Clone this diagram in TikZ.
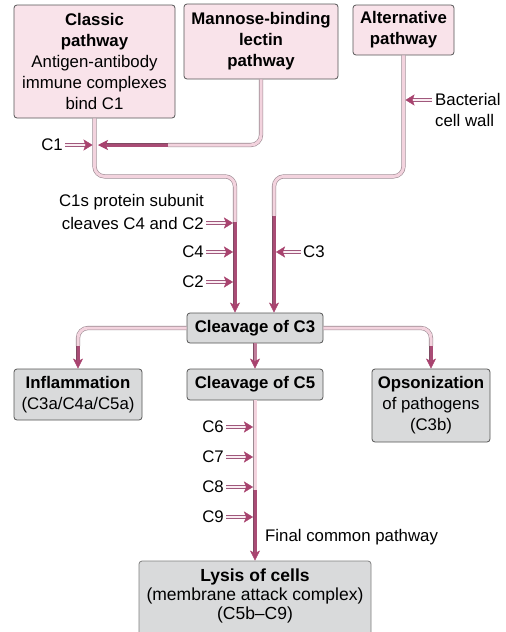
\documentclass[tikz,border=0pt]{standalone}
\usepackage{fontspec}
\setmainfont{Liberation Sans}
\usetikzlibrary{arrows.meta}
\definecolor{boxpink}{HTML}{F9E3EA}
\definecolor{boxgray}{HTML}{D9DADB}
\definecolor{boxedge}{HTML}{555555}
\definecolor{tubein}{HTML}{F3D3DE}
\definecolor{tubeout}{HTML}{9C8A92}
\definecolor{darkin}{HTML}{A94C75}
\definecolor{darkout}{HTML}{7E4A62}
\definecolor{midin}{HTML}{C07C9A}
\definecolor{headc}{HTML}{A8426E}
\definecolor{arrowedge}{HTML}{A0587C}
\begin{document}
\begin{tikzpicture}[x=1pt,y=-1pt,
 font=\fontsize{16.8}{21}\selectfont,
 box/.style={draw=boxedge, line width=0.8pt, rounded corners=3pt, align=center, inner sep=0pt},
 pinkbox/.style={box, fill=boxpink},
 graybox/.style={box, fill=boxgray},
 lbl/.style={inner sep=0pt},
 tube/.style={draw=tubeout, double=tubein, line width=0.6pt, double distance=3pt, rounded corners=10pt},
 tubedark/.style={draw=darkout, double=darkin, line width=0.6pt, double distance=3pt},
 tubemid/.style={draw=darkout, double=midin, line width=0.6pt, double distance=3pt},
 tip/.style={-{Stealth[length=10pt,width=10pt,inset=2.5pt,color=headc]}},
 inarrow/.style={
   preaction={arrows=-, draw=arrowedge, double=tubein!40, line width=0.8pt, double distance=2.6pt,
              shorten <=2pt, shorten >=9pt},
   draw=tubein!40, line width=0.3pt, shorten <=3pt, shorten >=2pt,
   -{Stealth[length=9pt,width=11pt,inset=2pt,color=headc,fill=headc]}}
]
\fill[white] (0,0) rectangle (506,632);
\useasboundingbox (0,0) rectangle (506,632);

% boxes
\node[pinkbox, minimum width=161pt, minimum height=113pt] (classic) at (94.5,61.5)
  {\textbf{Classic}\\\textbf{pathway}\\Antigen-antibody\\immune complexes\\bind C1};
\node[pinkbox, minimum width=154pt, minimum height=75pt] (mbl) at (261,41.5)
  {\textbf{Mannose-binding}\\\textbf{lectin}\\\textbf{pathway}};
\node[pinkbox, minimum width=101pt, minimum height=50pt] (alt) at (403.5,30)
  {\textbf{Alternative}\\\textbf{pathway}};
\node[graybox, minimum width=136pt, minimum height=30pt] (c3) at (255,328) {\textbf{Cleavage of C3}};
\node[graybox, minimum width=136pt, minimum height=31pt] (c5) at (255,384.5) {\textbf{Cleavage of C5}};
\node[graybox, minimum width=128pt, minimum height=51pt] (infl) at (78,394.5)
  {\textbf{Inflammation}\\(C3a/C4a/C5a)};
\node[graybox, minimum width=118pt, minimum height=73pt] (ops) at (431,405.5)
  {\textbf{Opsonization}\\of pathogens\\(C3b)};
\node[graybox, draw=boxedge!75, minimum width=232pt, minimum height=79pt] (lysis) at (255,600.5) {};
\node[align=center, inner sep=0pt, font=\fontsize{17.5}{19}\selectfont] (lysistext) at ([yshift=5pt]lysis.center)
  {\textbf{Lysis of cells}\\(membrane attack complex)\\(C5b--C9)};

% key coordinates
\coordinate (cl1) at ([xshift=-20pt]c3.north);
\coordinate (cr1) at ([xshift=19pt]c3.north);
\coordinate (kc) at (235,222);
\coordinate (ka) at (274,216);
\coordinate (km) at (168,145);
\coordinate (mj) at (98,145);
\coordinate (ki) at (78,346);
\coordinate (ko) at (431,346);
\coordinate (kl) at (255,490);

% main connectors
\draw[tube] (classic.south) -- ++(0,58) -| (kc);
\draw[tubedark, tip] (kc) -- (cl1);
\draw[tube] (alt.south) -- ++(0,121) -| (ka);
\draw[tubedark, tip] (ka) -- (cr1);
\draw[tube] (mbl.south) |- (km);
\draw[tubedark, tip] (km) -- (mj);
\draw[tube] (c3.west) -| (ki);
\draw[tubedark, tip] (ki) -- (infl.north);
\draw[tube] (c3.east) -| (ko);
\draw[tubedark, tip] (ko) -- (ops.north);
\draw[tubemid, tip] (c3.south) -- (c5.north);
\draw[tube] (c5.south) -- (kl);
\draw[tubedark, tip] (kl) -- (lysis.north);

% input labels and arrows
\node[lbl, anchor=east] (lc1) at (63,145) {C1};
\draw[inarrow] (lc1.east) -- (lc1.east -| classic.south);
\node[lbl, anchor=west, align=left] (lbac) at (435,110) {Bacterial\\cell wall};
\coordinate (bt) at (434,100);
\draw[inarrow] (bt) -- (bt -| alt.south);
\node[lbl, anchor=east] (lc1s) at (204,202) {C1s protein subunit};
\node[lbl, anchor=east] (lcl) at (204,223) {cleaves C4 and C2};
\draw[inarrow] (lcl.east) -- (lcl.east -| kc);
\node[lbl, anchor=east] (lc4) at (204,252) {C4};
\draw[inarrow] (lc4.east) -- (lc4.east -| kc);
\node[lbl, anchor=east] (lc2) at (204,282) {C2};
\draw[inarrow] (lc2.east) -- (lc2.east -| kc);
\node[lbl, anchor=west] (lc3) at (303,252) {C3};
\draw[inarrow] (lc3.west) -- (lc3.west -| ka);
\node[lbl, anchor=east] (lc6) at (224,427) {C6};
\draw[inarrow] (lc6.east) -- (lc6.east -| kl);
\node[lbl, anchor=east] (lc7) at (224,457) {C7};
\draw[inarrow] (lc7.east) -- (lc7.east -| kl);
\node[lbl, anchor=east] (lc8) at (224,487) {C8};
\draw[inarrow] (lc8.east) -- (lc8.east -| kl);
\node[lbl, anchor=east] (lc9) at (224,517) {C9};
\draw[inarrow] (lc9.east) -- (lc9.east -| kl);
\node[lbl, anchor=west] (lfin) at (265,537) {Final common pathway};
\end{tikzpicture}
\end{document}
